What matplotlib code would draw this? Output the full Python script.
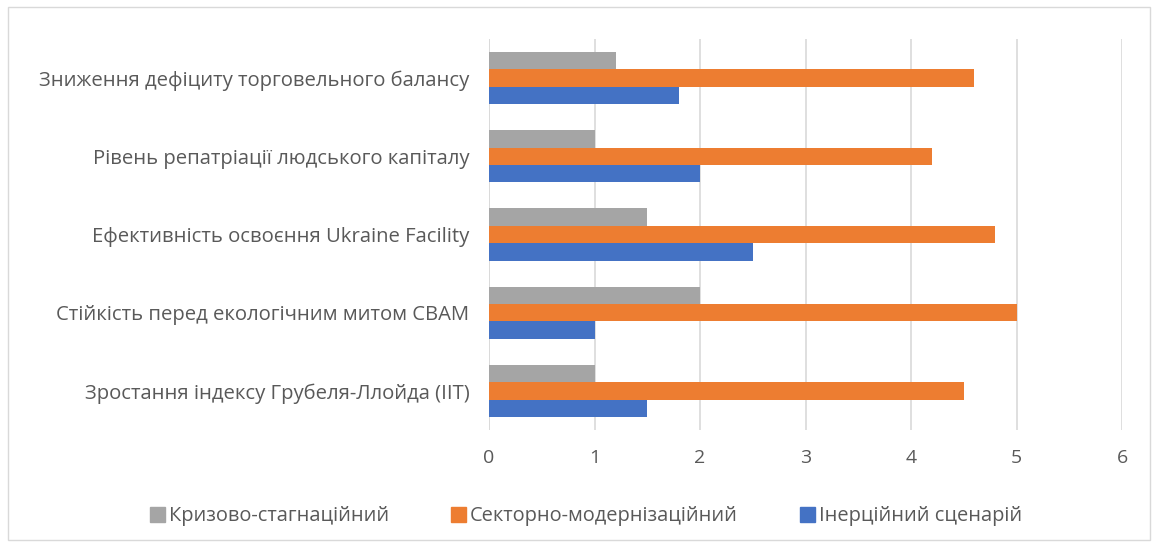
import matplotlib
matplotlib.use("Agg")
import matplotlib.pyplot as plt
import numpy as np
from matplotlib.patches import Rectangle

plt.rcParams['font.family'] = ['Open Sans', 'DejaVu Sans']

categories = [
    "Зростання індексу Грубеля-Ллойда (IIT)",
    "Стійкість перед екологічним митом CBAM",
    "Ефективність освоєння Ukraine Facility",
    "Рівень репатріації людського капіталу",
    "Зниження дефіциту торговельного балансу",
]
inertial = [1.5, 1.0, 2.5, 2.0, 1.8]
sector = [4.5, 5.0, 4.8, 4.2, 4.6]
crisis = [1.0, 2.0, 1.5, 1.0, 1.2]
series_names = ["Кризово-стагнаційний", "Секторно-модернізаційний", "Інерційний сценарій"]

c_grey = "#a5a5a5"
c_orange = "#ed7d31"
c_blue = "#4472c4"
txt = "#595959"

fig = plt.figure(figsize=(11.58, 5.47), dpi=100)
ax = fig.add_axes([0.4223, 0.2139, 0.969 - 0.4223, 0.9287 - 0.2139])

y = np.arange(len(categories))
h = 0.222
ax.barh(y - h, inertial, height=h, color=c_blue, zorder=3)
ax.barh(y, sector, height=h, color=c_orange, zorder=3)
ax.barh(y + h, crisis, height=h, color=c_grey, zorder=3)

ax.set_xlim(0, 6)
ax.set_ylim(-0.5, len(categories) - 0.5)
ax.set_xticks(range(0, 7))
ax.set_yticks(y)
ax.set_yticklabels(categories)
ax.xaxis.grid(True, color="#d9d9d9", linewidth=1.2, zorder=0)
for s in ax.spines.values():
    s.set_visible(False)
ax.axvline(0, color="#d9d9d9", linewidth=1.2, zorder=1)
ax.tick_params(axis="both", length=0, labelcolor=txt)
ax.tick_params(axis="x", pad=14, labelsize=14)
ax.tick_params(axis="y", pad=14, labelsize=14.6)

handles = [Rectangle((0, 0), 1, 1, color=c) for c in (c_grey, c_orange, c_blue)]
fig.legend(handles, series_names, loc="center", bbox_to_anchor=(0.506, 0.056),
           ncol=3, frameon=False, fontsize=14.4, labelcolor=txt,
           handlelength=0.75, handleheight=0.75, handletextpad=0.2, columnspacing=3.1)

fig.add_artist(Rectangle((0.007, 0.013), 0.986, 0.974, transform=fig.transFigure,
                         fill=False, edgecolor="#d9d9d9", linewidth=1))

fig.savefig("out.png", dpi=100)
